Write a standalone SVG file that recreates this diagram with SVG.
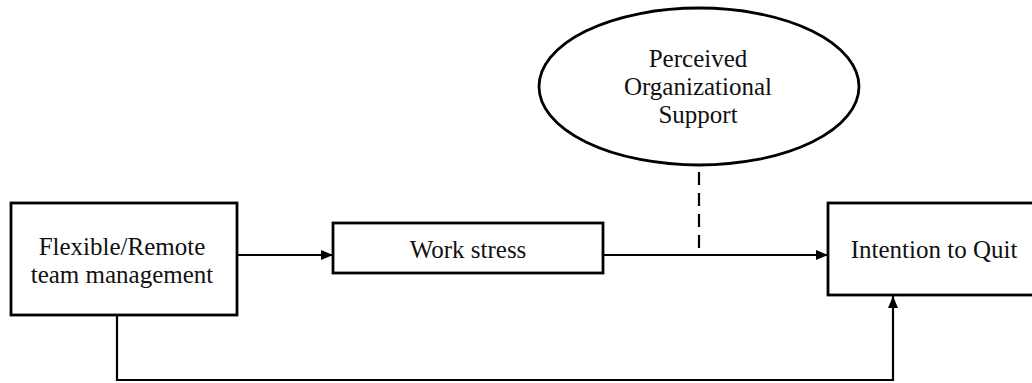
<svg xmlns="http://www.w3.org/2000/svg" width="1032" height="383" viewBox="0 0 1032 383">
<style>
.box{fill:#fff;stroke:#000;stroke-width:2.8}
.t{font-family:"Liberation Serif","Times New Roman",serif;font-size:25px;fill:#111;text-anchor:middle}
.ln{fill:none;stroke:#000;stroke-width:2.2}
</style>
<defs>
<marker id="ah" viewBox="0 0 12 10" refX="12" refY="5" markerWidth="12" markerHeight="10" markerUnits="userSpaceOnUse" orient="auto">
<path d="M0,0 L12,5 L0,10 Z" fill="#000"/>
</marker>
</defs>
<rect width="1032" height="383" fill="#fff"/>
<g id="connectors">
<line class="ln" x1="237" y1="255" x2="333" y2="255" marker-end="url(#ah)"/>
<line class="ln" x1="603" y1="255" x2="828" y2="255" marker-end="url(#ah)"/>
<line class="ln" x1="699" y1="172" x2="699" y2="253" stroke-dasharray="13,8" stroke-width="2.6"/>
<polyline class="ln" points="117,315 117,380 893,380 893,296" marker-end="url(#ah)"/>
</g>
<g id="flexible">
<rect class="box" x="11" y="203" width="226" height="112"/>
<text class="t" x="122" y="255">Flexible/Remote</text>
<text class="t" x="122" y="283">team management</text>
</g>
<g id="workstress">
<rect class="box" x="333" y="223" width="270" height="50"/>
<text class="t" x="468" y="258">Work stress</text>
</g>
<g id="intention">
<rect class="box" x="828" y="203" width="220" height="92"/>
<text class="t" x="934" y="258">Intention to Quit</text>
</g>
<g id="pos">
<ellipse class="box" cx="699" cy="86.5" rx="160" ry="78.5" stroke-width="2.2"/>
<text class="t" x="698" y="67">Perceived</text>
<text class="t" x="698" y="95">Organizational</text>
<text class="t" x="698" y="123">Support</text>
</g>
</svg>
